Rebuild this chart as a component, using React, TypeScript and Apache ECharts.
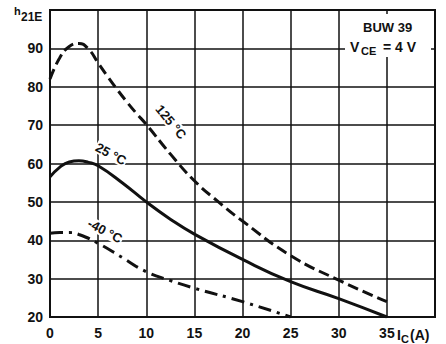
import React, { useEffect, useRef } from "react";
import * as echarts from "echarts";

const xTicks = [0, 5, 10, 15, 20, 25, 30, 35];
const yTicks = [20, 30, 40, 50, 60, 70, 80, 90];

const x125 = [0, 1, 2, 3, 4, 5, 6, 7, 8, 9, 10, 12.5, 15, 17.5, 20, 25, 30, 35];
const y125 = [82, 87.5, 90.5, 91.3, 89.8, 86.2, 82.6, 79.2, 76, 73, 70.2, 62.5, 55.5, 50, 45, 36, 29.6, 24];

const x25 = [0, 1, 2, 3, 4, 5, 7.5, 10, 12.5, 15, 20, 25, 30, 35];
const y25 = [56.5, 59, 60.4, 60.7, 60.3, 59.4, 55, 50, 45.5, 41.6, 35, 29.2, 24.8, 20];

const xm40 = [0, 1, 2, 3, 5, 7.5, 10, 12.5, 15, 20, 25];
const ym40 = [41.8, 42, 42, 41.5, 39.2, 35.5, 31.8, 29.5, 27.5, 24, 20];

const pairs = (xs: number[], ys: number[]) => xs.map((x, i) => [x, ys[i]]);

const FONT = "'Liberation Sans', Arial, sans-serif";

export default function App() {
  const ref = useRef<HTMLDivElement>(null);
  useEffect(() => {
    if (!ref.current) return;
    const chart = echarts.init(ref.current, null, { renderer: "svg" });
    const deg = Math.PI / 180;
    const txt = (text: string, x: number, y: number, size: number, extra: any = {}) => ({
      type: "text",
      x,
      y,
      z: 100,
      style: { text, fill: "#111", font: `bold ${size}px ${FONT}`, ...(extra.style || {}) },
      ...(extra.el || {}),
    });
    const curveLabel = (text: string, x: number, y: number, angle: number) =>
      txt(text, x, y, 13, {
        style: {
          align: "center",
          verticalAlign: "middle",
          backgroundColor: "#fff",
          padding: [0, 1, 0, 1],
        },
        el: { rotation: -angle * deg, z: 3 },
      });
    chart.setOption({
      animation: false,
      backgroundColor: "#fff",
      grid: {
        left: 50,
        right: 11,
        top: 10,
        bottom: 27,
        containLabel: false,
        outerBoundsMode: "none",
        show: true,
        borderColor: "#111",
        borderWidth: 2,
      },
      xAxis: {
        type: "value",
        min: 0,
        max: 40,
        interval: 5,
        axisLine: { show: true, lineStyle: { color: "#111", width: 2 } },
        axisTick: { show: false },
        splitLine: { show: true, lineStyle: { color: "#111", width: 1.5 } },
        axisLabel: {
          margin: 9,
          color: "#111",
          fontFamily: FONT,
          fontWeight: "bold",
          fontSize: 14,
          formatter: (v: number) => (xTicks.includes(v) ? String(v) : ""),
        },
      },
      yAxis: {
        type: "value",
        min: 20,
        max: 100,
        interval: 10,
        axisLine: { show: true, lineStyle: { color: "#111", width: 2 } },
        axisTick: { show: false },
        splitLine: { show: true, lineStyle: { color: "#111", width: 1.5 } },
        axisLabel: {
          margin: 7,
          color: "#111",
          fontFamily: FONT,
          fontWeight: "bold",
          fontSize: 14,
          formatter: (v: number) => (yTicks.includes(v) ? String(v) : ""),
        },
      },
      graphic: [
        { type: "rect", z: 90, shape: { x: 345, y: 14, width: 86, height: 43 }, style: { fill: "#fff" } },
        txt("BUW 39", 363, 21, 13),
        txt("V", 350, 40, 14),
        txt("CE", 361, 45, 11),
        txt("= 4 V", 383, 40, 14),
        txt("h", 14, 5, 11),
        txt("21E", 21, 11, 12),
        txt("I", 397, 328, 14),
        txt("C", 401, 333, 11),
        txt("(A)", 410, 328, 14),
        curveLabel("125 °C", 171, 122, 50),
        curveLabel("25 °C", 111, 154, 28),
        curveLabel("-40 °C", 105, 231, 28),
      ],
      series: [
        {
          name: "125 °C",
          type: "line",
          smooth: true,
          showSymbol: false,
          data: pairs(x125, y125),
          lineStyle: { color: "#111", width: 3, type: [11, 5] },
          z: 5,
        },
        {
          name: "25 °C",
          type: "line",
          smooth: true,
          showSymbol: false,
          data: pairs(x25, y25),
          lineStyle: { color: "#111", width: 3 },
          z: 5,
        },
        {
          name: "-40 °C",
          type: "line",
          smooth: true,
          showSymbol: false,
          data: pairs(xm40, ym40),
          lineStyle: { color: "#111", width: 3, type: [13, 6, 3, 6] },
          z: 5,
        },
      ],
    });
    return () => chart.dispose();
  }, []);
  return <div ref={ref} style={{ width: 446, height: 344, position: "absolute", left: 0, top: 0 }} />;
}
